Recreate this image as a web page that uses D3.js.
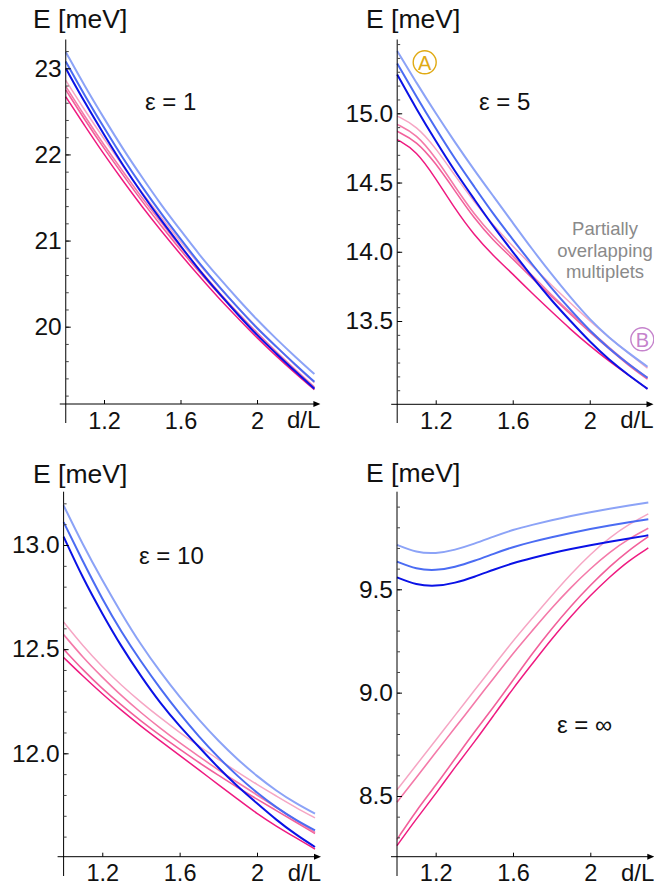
<!DOCTYPE html>
<html>
<head>
<meta charset="utf-8">
<script src="https://cdn.jsdelivr.net/npm/d3@7"></script>
<style>
  html, body { margin: 0; padding: 0; background: #fff; }
  svg { display: block; font-family: "Liberation Sans", Arial, Helvetica, sans-serif; }
</style>
</head>
<body>
<svg id="chart" width="654" height="890"></svg>
<script>
// ---------------- DATA ----------------
const dL = [1.0, 1.1, 1.2, 1.3, 1.4, 1.5, 1.6, 1.7, 1.8, 1.9, 2.0, 2.1, 2.2, 2.3];

// series order: light blue, medium blue, dark blue, light pink, pink 2, pink 3, dark pink
const eps1Series = [
  [23.19, 22.79, 22.42, 22.06, 21.73, 21.41, 21.12, 20.83, 20.57, 20.32, 20.08, 19.86, 19.65, 19.45],
  [23.08, 22.68, 22.31, 21.95, 21.62, 21.31, 21.02, 20.73, 20.47, 20.22, 19.98, 19.77, 19.56, 19.36],
  [23.00, 22.60, 22.23, 21.87, 21.54, 21.23, 20.94, 20.65, 20.39, 20.14, 19.90, 19.69, 19.48, 19.28],
  [22.86, 22.51, 22.18, 21.86, 21.55, 21.27, 20.98, 20.72, 20.46, 20.22, 19.99, 19.77, 19.55, 19.35],
  [22.79, 22.44, 22.11, 21.80, 21.49, 21.21, 20.92, 20.66, 20.40, 20.16, 19.93, 19.71, 19.50, 19.30],
  [22.75, 22.40, 22.07, 21.76, 21.45, 21.17, 20.89, 20.63, 20.38, 20.14, 19.91, 19.69, 19.48, 19.29],
  [22.67, 22.33, 22.00, 21.69, 21.39, 21.11, 20.84, 20.58, 20.33, 20.10, 19.87, 19.66, 19.46, 19.27]
];
const eps5Series = [
  [15.45, 15.22, 15.00, 14.79, 14.59, 14.40, 14.21, 14.02, 13.84, 13.67, 13.51, 13.38, 13.27, 13.17],
  [15.36, 15.12, 14.89, 14.67, 14.47, 14.27, 14.09, 13.91, 13.74, 13.58, 13.43, 13.30, 13.19, 13.09],
  [15.28, 15.03, 14.80, 14.58, 14.38, 14.18, 14.00, 13.82, 13.65, 13.50, 13.35, 13.22, 13.11, 13.01],
  [14.98, 14.91, 14.75, 14.55, 14.36, 14.19, 14.04, 13.90, 13.76, 13.63, 13.50, 13.38, 13.27, 13.16],
  [14.92, 14.85, 14.68, 14.47, 14.27, 14.11, 13.97, 13.83, 13.69, 13.56, 13.43, 13.31, 13.19, 13.09],
  [14.87, 14.80, 14.64, 14.44, 14.24, 14.08, 13.95, 13.81, 13.68, 13.55, 13.42, 13.30, 13.18, 13.08],
  [14.81, 14.73, 14.53, 14.31, 14.12, 13.97, 13.84, 13.70, 13.57, 13.44, 13.32, 13.21, 13.11, 13.01]
];
const eps10Series = [
  [13.19, 13.00, 12.83, 12.67, 12.52, 12.39, 12.27, 12.16, 12.06, 11.97, 11.89, 11.82, 11.76, 11.71],
  [13.11, 12.92, 12.74, 12.58, 12.44, 12.31, 12.19, 12.08, 11.98, 11.89, 11.81, 11.74, 11.68, 11.63],
  [13.04, 12.84, 12.67, 12.51, 12.37, 12.24, 12.13, 12.03, 11.93, 11.84, 11.76, 11.68, 11.61, 11.55],
  [12.63, 12.515, 12.415, 12.325, 12.245, 12.17, 12.10, 12.035, 11.97, 11.91, 11.85, 11.795, 11.74, 11.69],
  [12.57, 12.46, 12.365, 12.275, 12.195, 12.12, 12.05, 11.985, 11.92, 11.86, 11.80, 11.74, 11.68, 11.62],
  [12.50, 12.40, 12.31, 12.23, 12.155, 12.085, 12.02, 11.955, 11.895, 11.835, 11.78, 11.725, 11.67, 11.615],
  [12.46, 12.37, 12.285, 12.205, 12.13, 12.06, 11.99, 11.92, 11.85, 11.78, 11.71, 11.65, 11.595, 11.54]
];
const epsInfSeries = [
  [9.715, 9.678, 9.672, 9.690, 9.720, 9.755, 9.788, 9.812, 9.834, 9.855, 9.873, 9.890, 9.906, 9.920],
  [9.634, 9.597, 9.590, 9.607, 9.637, 9.672, 9.705, 9.730, 9.752, 9.773, 9.792, 9.809, 9.825, 9.839],
  [9.558, 9.521, 9.514, 9.530, 9.560, 9.595, 9.627, 9.652, 9.675, 9.695, 9.713, 9.730, 9.746, 9.761],
  [8.53, 8.65, 8.77, 8.89, 9.01, 9.13, 9.25, 9.36, 9.47, 9.575, 9.67, 9.75, 9.815, 9.865],
  [8.47, 8.59, 8.71, 8.83, 8.95, 9.07, 9.19, 9.30, 9.41, 9.51, 9.60, 9.68, 9.745, 9.795],
  [8.29, 8.43, 8.55, 8.68, 8.81, 8.93, 9.06, 9.19, 9.31, 9.42, 9.52, 9.61, 9.69, 9.755],
  [8.26, 8.39, 8.51, 8.64, 8.76, 8.89, 9.02, 9.14, 9.26, 9.37, 9.47, 9.56, 9.64, 9.70]
];

const xTicks = [1.2, 1.6, 2];
const xTickLabels = ["1.2", "1.6", "2"];
const eps1YTicks = [20, 21, 22, 23];
const eps5YTicks = [13.5, 14.0, 14.5, 15.0];
const eps10YTicks = [12.0, 12.5, 13.0];
const epsInfYTicks = [8.5, 9.0, 9.5];
const panelLabels = ["ε = 1", "ε = 5", "ε = 10", "ε = ∞"];

// ---------------- STYLE ----------------
const lineColors = ["#8ca3f7", "#4b6cf3", "#0a12e6", "#f6a6c4", "#f47aa9", "#f2609b", "#ef1a80"];
const lineWidths = [2.0, 2.0, 2.0, 1.5, 1.6, 1.6, 1.5];
const drawOrder = [6, 5, 4, 3, 0, 1, 2];

const panels = [
  { series: eps1Series, yTicks: eps1YTicks, fmt: d3.format("d"), yDom: [20, 23], yRange: [326.7, 68.3],
    x0: 65.75, x1: 314.4, axTop: 39.5, axBot: 423, xAxY: 404, minorStep: 0.2, minorFrom: 19.2, minorTo: 23.2,
    titleX: 33, titleY: 28, epsX: 145, epsY: 110, label: panelLabels[0] },
  { series: eps5Series, yTicks: eps5YTicks, fmt: d3.format(".1f"), yDom: [13.5, 15.0], yRange: [321, 113.3],
    x0: 397.2, x1: 647.5, axTop: 39.5, axBot: 423, xAxY: 404.3, minorStep: 0.1, minorFrom: 13.0, minorTo: 15.5,
    titleX: 366, titleY: 28, epsX: 479, epsY: 110, label: panelLabels[1] },
  { series: eps10Series, yTicks: eps10YTicks, fmt: d3.format(".1f"), yDom: [12.0, 13.0], yRange: [753.3, 545],
    x0: 63.6, x1: 315.0, axTop: 491.7, axBot: 876, xAxY: 856.7, minorStep: 0.1, minorFrom: 11.6, minorTo: 13.2,
    titleX: 33, titleY: 483, epsX: 139, epsY: 564, label: panelLabels[2] },
  { series: epsInfSeries, yTicks: epsInfYTicks, fmt: d3.format(".1f"), yDom: [8.5, 9.5], yRange: [796, 589.3],
    x0: 397.0, x1: 648.3, axTop: 491.7, axBot: 876, xAxY: 856.7, minorStep: 0.1, minorFrom: 8.3, minorTo: 9.9,
    titleX: 366, titleY: 482, epsX: 557, epsY: 733, label: panelLabels[3] }
];

const svg = d3.select("#chart");

panels.forEach((p, pi) => {
  const x = d3.scaleLinear().domain([1, 2.3]).range([p.x0, p.x1]);
  const y = d3.scaleLinear().domain(p.yDom).range(p.yRange);
  const g = svg.append("g");

  // curves
  const line = d3.line().x((d, i) => x(dL[i])).y(d => y(d)).curve(d3.curveBasis);
  drawOrder.forEach(si => {
    g.append("path").attr("d", line(p.series[si]))
      .attr("fill", "none").attr("stroke", lineColors[si]).attr("stroke-width", lineWidths[si])
      .attr("stroke-linejoin", "round").attr("stroke-linecap", "butt");
  });

  // y axis line
  g.append("line").attr("x1", p.x0).attr("x2", p.x0).attr("y1", p.axTop).attr("y2", p.axBot)
    .attr("stroke", "#000").attr("stroke-width", 1);
  // x axis line + arrow
  const tip = p.x1 + 6;
  g.append("line").attr("x1", p.x0 - 6).attr("x2", tip - 2).attr("y1", p.xAxY).attr("y2", p.xAxY)
    .attr("stroke", "#000").attr("stroke-width", 1);
  g.append("path").attr("d", `M${tip},${p.xAxY} L${tip - 7},${p.xAxY - 3} L${tip - 7},${p.xAxY + 3} Z`)
    .attr("fill", "#000");

  // minor y ticks
  const minor = d3.range(p.minorFrom, p.minorTo + 1e-6, p.minorStep).map(v => +v.toFixed(3));
  const minorAxis = d3.axisLeft(y).tickValues(minor).tickSize(-3).tickFormat("");
  const gm = g.append("g").attr("transform", `translate(${p.x0},0)`).call(minorAxis);
  gm.select(".domain").remove();
  gm.selectAll("line").attr("stroke", "#444");

  // major y ticks
  const yAxis = d3.axisLeft(y).tickValues(p.yTicks).tickSizeInner(-5).tickSizeOuter(0).tickPadding(4).tickFormat(p.fmt);
  const gy = g.append("g").attr("transform", `translate(${p.x0},0)`).call(yAxis);
  gy.select(".domain").remove();
  gy.selectAll("text").attr("font-size", 24.5).attr("fill", "#111").attr("font-family", null);

  // x ticks
  const xAxis = d3.axisBottom(x).tickValues(xTicks).tickSizeInner(-4).tickSizeOuter(0).tickPadding(8)
    .tickFormat((d, i) => xTickLabels[i]);
  const gx = g.append("g").attr("transform", `translate(0,${p.xAxY})`).call(xAxis);
  gx.select(".domain").remove();
  gx.selectAll("text").attr("font-size", 23.5).attr("fill", "#111").attr("font-family", null);

  // d/L label
  g.append("text").attr("x", p.x1 + 6).attr("y", p.xAxY + 24).attr("text-anchor", "end")
    .attr("font-size", 24).attr("fill", "#111").text("d/L");

  // title
  g.append("text").attr("x", p.titleX).attr("y", p.titleY).attr("font-size", 26.5).attr("fill", "#111").text("E [meV]");
  // epsilon label
  g.append("text").attr("x", p.epsX).attr("y", p.epsY).attr("font-size", 24).attr("fill", "#111").text(p.label);
});

// annotations in ε = 5 panel
svg.append("circle").attr("cx", 424.7).attr("cy", 62.3).attr("r", 11.5).attr("fill", "none")
  .attr("stroke", "#e0aa14").attr("stroke-width", 1.4);
svg.append("text").attr("x", 424.7).attr("y", 69.8).attr("text-anchor", "middle").attr("font-size", 20)
  .attr("fill", "#e0aa14").text("A");
svg.append("circle").attr("cx", 642.3).attr("cy", 339.3).attr("r", 11.5).attr("fill", "none")
  .attr("stroke", "#c583cc").attr("stroke-width", 1.4);
svg.append("text").attr("x", 642.3).attr("y", 346.8).attr("text-anchor", "middle").attr("font-size", 20)
  .attr("fill", "#c583cc").text("B");

const note = ["Partially", "overlapping", "multiplets"];
svg.append("text").attr("text-anchor", "middle").attr("font-size", 18.5).attr("fill", "#8a8a8a")
  .selectAll("tspan").data(note).join("tspan")
  .attr("x", 605).attr("y", (d, i) => 235 + i * 21.5).text(d => d);
</script>
</body>
</html>
